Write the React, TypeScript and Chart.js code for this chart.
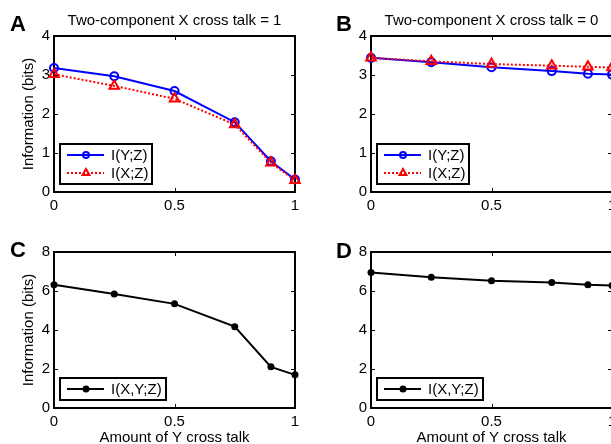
import React, { useEffect, useRef } from 'react';
import { Chart, registerables } from 'chart.js';

Chart.register(...registerables);

// ---- data ----
const crossTalk = [0, 0.25, 0.5, 0.75, 0.9, 1];
const infoYZ_A = [3.18, 2.97, 2.59, 1.79, 0.79, 0.32];
const infoXZ_A = [3.02, 2.72, 2.39, 1.73, 0.75, 0.3];
const infoYZ_B = [3.44, 3.33, 3.2, 3.1, 3.03, 3.01];
const infoXZ_B = [3.44, 3.35, 3.28, 3.24, 3.21, 3.19];
const infoXYZ_C = [6.32, 5.85, 5.34, 4.17, 2.11, 1.7];
const infoXYZ_D = [6.95, 6.71, 6.52, 6.44, 6.32, 6.28];

const xTickValues = [0, 0.5, 1];
const yTicksTop = [0, 1, 2, 3, 4];
const yTicksBottom = [0, 2, 4, 6, 8];

const labelYZ = 'I(Y;Z)';
const labelXZ = 'I(X;Z)';
const labelXYZ = 'I(X,Y;Z)';
const titleA = 'Two-component X cross talk = 1';
const titleB = 'Two-component X cross talk = 0';
const yAxisTitle = 'Information (bits)';
const xAxisTitle = 'Amount of Y cross talk';

const FONT = '"Liberation Sans", Arial, Helvetica, sans-serif';
const BLUE = '#0000ff';
const RED = '#ff0000';
const BLACK = '#000000';

type SeriesDef = {
  label: string;
  values: number[];
  color: string;
  dash: number[];
  style: 'circle' | 'triangle' | 'dot';
};

type PanelDef = {
  left: number;
  top: number;
  w: number;
  h: number;
  yAxisWidth: number;
  xAxisHeight: number;
  padTop: number;
  padRight: number;
  yTicks: number[];
  letter: string;
  letterX: number;
  letterY: number;
  title?: string;
  yTitle?: boolean;
  xTitle?: boolean;
  series: SeriesDef[];
};

const pts = (xs: number[], ys: number[]) => xs.map((x, i) => ({ x, y: ys[i] }));

function drawMarker(ctx: CanvasRenderingContext2D, style: string, color: string, x: number, y: number, r: number) {
  ctx.save();
  ctx.setLineDash([]);
  ctx.strokeStyle = color;
  ctx.fillStyle = color;
  if (style === 'circle') {
    ctx.lineWidth = 2;
    ctx.beginPath();
    ctx.arc(x, y, r, 0, Math.PI * 2);
    ctx.stroke();
  } else if (style === 'triangle') {
    ctx.lineWidth = 2;
    ctx.beginPath();
    for (let k = 0; k < 3; k++) {
      const a = (k * 2 * Math.PI) / 3;
      const px = x + Math.sin(a) * r;
      const py = y - Math.cos(a) * r;
      if (k === 0) ctx.moveTo(px, py);
      else ctx.lineTo(px, py);
    }
    ctx.closePath();
    ctx.stroke();
  } else {
    ctx.beginPath();
    ctx.arc(x, y, r, 0, Math.PI * 2);
    ctx.fill();
  }
  ctx.restore();
}

function makeDecor(p: PanelDef) {
  return {
    id: 'decor' + p.letter,
    beforeDatasetsDraw(chart: any) {
      const { ctx, chartArea } = chart;
      const { left, right, top, bottom } = chartArea;
      const xs = chart.scales.x;
      const ys = chart.scales.y;
      ctx.save();
      ctx.strokeStyle = BLACK;
      ctx.lineWidth = 1;
      ctx.beginPath();
      for (const v of xTickValues) {
        const px = Math.round(xs.getPixelForValue(v)) + 0.5;
        ctx.moveTo(px, bottom);
        ctx.lineTo(px, bottom - 4);
        ctx.moveTo(px, top);
        ctx.lineTo(px, top + 4);
      }
      for (const v of p.yTicks) {
        const py = Math.round(ys.getPixelForValue(v)) + 0.5;
        ctx.moveTo(left, py);
        ctx.lineTo(left + 4, py);
        ctx.moveTo(right, py);
        ctx.lineTo(right - 4, py);
      }
      ctx.stroke();
      ctx.lineWidth = 2;
      ctx.strokeRect(left, top, right - left, bottom - top);
      ctx.restore();
    },
    afterDatasetsDraw(chart: any) {
      const { ctx, chartArea } = chart;
      const { left, bottom } = chartArea;
      ctx.save();
      ctx.font = `15px ${FONT}`;
      const rows = p.series.length;
      let maxW = 0;
      for (const s of p.series) maxW = Math.max(maxW, ctx.measureText(s.label).width);
      const bw = Math.round(51 + maxW + 4);
      const bh = rows * 18 + 4;
      const bx = left + 6;
      const by = bottom - 8 - bh;
      ctx.fillStyle = '#ffffff';
      ctx.fillRect(bx, by, bw, bh);
      ctx.strokeStyle = BLACK;
      ctx.lineWidth = 2;
      ctx.strokeRect(bx, by, bw, bh);
      p.series.forEach((s, i) => {
        const cy = by + 11 + i * 18;
        ctx.save();
        ctx.strokeStyle = s.color;
        ctx.lineWidth = 2;
        ctx.setLineDash(s.dash);
        ctx.beginPath();
        ctx.moveTo(bx + 7, cy);
        ctx.lineTo(bx + 44, cy);
        ctx.stroke();
        ctx.restore();
        drawMarker(ctx, s.style, s.color, bx + 26, cy, s.style === 'circle' ? 3 : s.style === 'triangle' ? 4 : 3.5);
        ctx.fillStyle = BLACK;
        ctx.textAlign = 'left';
        ctx.textBaseline = 'middle';
        ctx.fillText(s.label, bx + 51, cy + 1);
      });
      ctx.restore();
    },
    afterDraw(chart: any) {
      const { ctx, chartArea } = chart;
      const { left, right, top, bottom } = chartArea;
      ctx.save();
      ctx.fillStyle = BLACK;
      ctx.font = `bold 22px ${FONT}`;
      ctx.textAlign = 'left';
      ctx.textBaseline = 'alphabetic';
      ctx.fillText(p.letter, p.letterX, p.letterY);
      ctx.font = `15px ${FONT}`;
      if (p.title) {
        ctx.textAlign = 'center';
        ctx.fillText(p.title, (left + right) / 2, 25);
      }
      if (p.xTitle) {
        ctx.textAlign = 'center';
        ctx.fillText(xAxisTitle, (left + right) / 2, 222);
      }
      if (p.yTitle) {
        ctx.translate(29, (top + bottom) / 2);
        ctx.rotate(-Math.PI / 2);
        ctx.textAlign = 'center';
        ctx.textBaseline = 'middle';
        ctx.fillText(yAxisTitle, 0, 0);
      }
      ctx.restore();
    },
  };
}

function buildConfig(p: PanelDef): any {
  const datasets = p.series.map((s, i) => ({
    label: s.label,
    data: pts(crossTalk, s.values),
    borderColor: s.color,
    borderWidth: 2,
    borderDash: s.dash,
    pointStyle: s.style === 'triangle' ? 'triangle' : 'circle',
    pointRadius: s.style === 'circle' ? 4 : s.style === 'triangle' ? 5.5 : 3.5,
    pointBorderWidth: s.style === 'dot' ? 0 : 2,
    pointBorderColor: s.color,
    pointBackgroundColor: s.style === 'dot' ? s.color : 'rgba(0,0,0,0)',
    tension: 0,
    fill: false,
    clip: false,
    order: p.series.length - i,
  }));
  const yMax = p.yTicks[p.yTicks.length - 1];
  return {
    type: 'line',
    data: { datasets },
    options: {
      responsive: false,
      animation: false,
      devicePixelRatio: 1,
      events: [],
      layout: { padding: { left: 0, top: p.padTop, right: p.padRight, bottom: 0 } },
      plugins: {
        legend: { display: false },
        tooltip: { enabled: false },
        title: { display: false },
      },
      scales: {
        x: {
          type: 'linear',
          min: 0,
          max: 1,
          afterBuildTicks: (s: any) => {
            s.ticks = xTickValues.map((v) => ({ value: v }));
          },
          afterFit: (s: any) => {
            s.height = p.xAxisHeight;
          },
          ticks: {
            padding: 5,
            color: BLACK,
            font: { family: FONT, size: 15 },
            maxRotation: 0,
            autoSkip: false,
            callback: (v: any) => String(v),
          },
          grid: { display: false, drawTicks: false },
          border: { display: false },
        },
        y: {
          type: 'linear',
          min: 0,
          max: yMax,
          afterBuildTicks: (s: any) => {
            s.ticks = p.yTicks.map((v) => ({ value: v }));
          },
          afterFit: (s: any) => {
            s.width = p.yAxisWidth;
          },
          ticks: {
            padding: 4,
            color: BLACK,
            font: { family: FONT, size: 15 },
            autoSkip: false,
            callback: (v: any) => String(v),
          },
          grid: { display: false, drawTicks: false },
          border: { display: false },
        },
      },
    },
    plugins: [makeDecor(p)],
  };
}

const panels: PanelDef[] = [
  {
    left: 0, top: 0, w: 305, h: 220,
    yAxisWidth: 54, xAxisHeight: 28, padTop: 36, padRight: 10,
    yTicks: yTicksTop, letter: 'A', letterX: 10, letterY: 31,
    title: titleA, yTitle: true,
    series: [
      { label: labelYZ, values: infoYZ_A, color: BLUE, dash: [], style: 'circle' },
      { label: labelXZ, values: infoXZ_A, color: RED, dash: [2, 2], style: 'triangle' },
    ],
  },
  {
    left: 305, top: 0, w: 320, h: 220,
    yAxisWidth: 66, xAxisHeight: 28, padTop: 36, padRight: 13,
    yTicks: yTicksTop, letter: 'B', letterX: 31, letterY: 31,
    title: titleB,
    series: [
      { label: labelYZ, values: infoYZ_B, color: BLUE, dash: [], style: 'circle' },
      { label: labelXZ, values: infoXZ_B, color: RED, dash: [2, 2], style: 'triangle' },
    ],
  },
  {
    left: 0, top: 220, w: 305, h: 224,
    yAxisWidth: 54, xAxisHeight: 36, padTop: 32, padRight: 10,
    yTicks: yTicksBottom, letter: 'C', letterX: 10, letterY: 37,
    yTitle: true, xTitle: true,
    series: [{ label: labelXYZ, values: infoXYZ_C, color: BLACK, dash: [], style: 'dot' }],
  },
  {
    left: 305, top: 220, w: 320, h: 224,
    yAxisWidth: 66, xAxisHeight: 36, padTop: 32, padRight: 13,
    yTicks: yTicksBottom, letter: 'D', letterX: 31, letterY: 38,
    xTitle: true,
    series: [{ label: labelXYZ, values: infoXYZ_D, color: BLACK, dash: [], style: 'dot' }],
  },
];

function Panel({ p }: { p: PanelDef }) {
  const ref = useRef<HTMLCanvasElement>(null);
  useEffect(() => {
    if (!ref.current) return;
    const chart = new Chart(ref.current, buildConfig(p));
    return () => chart.destroy();
  }, [p]);
  return (
    <canvas
      ref={ref}
      width={p.w}
      height={p.h}
      style={{ position: 'absolute', left: p.left, top: p.top, width: p.w, height: p.h, display: 'block' }}
    />
  );
}

export default function App() {
  return (
    <div
      style={{
        position: 'absolute',
        left: 0,
        top: 0,
        width: 611,
        height: 444,
        overflow: 'hidden',
        background: '#ffffff',
      }}
    >
      {panels.map((p) => (
        <Panel key={p.letter} p={p} />
      ))}
    </div>
  );
}
